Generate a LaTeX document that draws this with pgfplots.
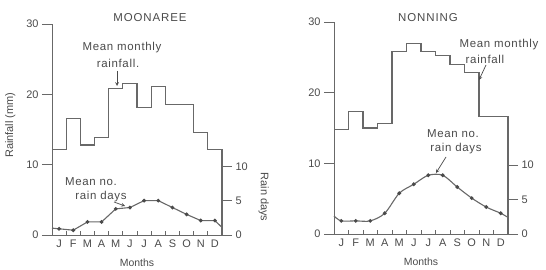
\documentclass[border=0pt]{standalone}
\usepackage{fontspec}
\setmainfont{Liberation Sans}
\usepackage{pgfplots}
\pgfplotsset{compat=1.18}
\definecolor{ink}{HTML}{4A4A4A}
\definecolor{ln}{HTML}{686868}

\pgfplotsset{
  rainfallaxis/.style={
    scale only axis, anchor=south west,
    xmin=0, xmax=12, ymin=0, ymax=30,
    axis x line*=bottom, axis y line*=left,
    axis line style={-, ln, line width=0.9bp},
    ytick={0,10,20,30},
    tick align=outside, major tick length=10bp, minor tick length=3.5bp,
    xtick={0.5,1.5,...,11.5},
    xticklabels={J,F,M,A,M,J,J,A,S,O,N,D},
    minor xtick={0,1,...,12},
    major x tick style={draw=none},
    minor x tick style={yshift=3.5bp, ln, line width=0.8bp},
    major y tick style={ln, line width=0.8bp},
    xticklabel style={yshift=9bp, font=\fontsize{11}{12}\selectfont, text=ink},
    yticklabel style={font=\fontsize{11}{12}\selectfont, text=ink},
    /pgf/number format/assume math mode=true,
    xlabel={Months},
    xlabel style={font=\fontsize{10.5}{12}\selectfont, text=ink,
      at={(axis description cs:0.5,-0.133)}, anchor=center},
    clip=false,
  },
  raindaysaxis/.style={
    scale only axis, anchor=south west,
    xmin=0, xmax=12, ymin=0, ymax=30.7,
    hide x axis,
    axis y line*=right,
    y axis line style={draw=none},
    ytick={0,5,10},
    tick align=outside, major tick length=10bp,
    major y tick style={ln, line width=0.8bp},
    yticklabel style={font=\fontsize{11}{12}\selectfont, text=ink},
    /pgf/number format/assume math mode=true,
    clip=false,
  },
  stepline/.style={ln, line width=1.1bp, const plot},
  dayline/.style={ln, line width=1.1bp, mark=*, mark size=1.3bp,
    mark options={fill=ink, draw=ink}, mark indices={2,...,13}},
}

\begin{document}
\begin{tikzpicture}
\path[use as bounding box] (0bp,0bp) rectangle (546bp,270bp);

% ---------------- MOONAREE ----------------
\begin{axis}[rainfallaxis, at={(52bp,35bp)}, width=170bp, height=211bp,
  ylabel={Rainfall (mm)},
  ylabel style={font=\fontsize{11}{12}\selectfont, text=ink, at={(axis description cs:-0.245,0.52)}, anchor=center}]
\addplot[stepline] coordinates {
 (0,12.1) (1,16.6) (2,12.8) (3,13.8) (4,20.8) (5,21.6) (6,18.1) (7,21.1)
 (8,18.6) (9,18.6) (10,14.6) (11,12.2) (12,12.2) (12,0)};
\end{axis}
\begin{axis}[raindaysaxis, at={(52bp,35bp)}, width=170bp, height=211bp,
  ylabel={Rain days},
  ylabel style={font=\fontsize{11}{12}\selectfont, text=ink, at={(axis description cs:1.245,0.18)}, anchor=center, rotate=180}]
\addplot[dayline] coordinates {
 (0,1.0) (0.5,0.9) (1.5,0.7) (2.5,1.9) (3.5,1.9) (4.5,3.8) (5.5,4.0)
 (6.5,5.0) (7.5,5.0) (8.5,4.0) (9.5,3.0) (10.5,2.1) (11.5,2.1) (12,1.1)};
\end{axis}

% ---------------- NONNING ----------------
\begin{axis}[rainfallaxis, at={(334bp,36bp)}, width=174bp, height=212bp]
\addplot[stepline] coordinates {
 (0,14.8) (1,17.3) (2,15.0) (3,15.7) (4,25.8) (5,27.0) (6,25.8) (7,25.2)
 (8,24.0) (9,22.9) (10,16.6) (11,16.6) (12,16.6) (12,0)};
\end{axis}
\begin{axis}[raindaysaxis, at={(334bp,36bp)}, width=174bp, height=212bp]
\addplot[dayline, smooth, tension=0.5] coordinates {
 (0,2.6) (0.5,1.9) (1.5,1.9) (2.5,1.9) (3.5,3.0) (4.5,5.9) (5.5,7.2)
 (6.5,8.5) (7.5,8.5) (8.5,6.8) (9.5,5.2) (10.5,3.9) (11.5,3.0) (12,2.4)};
\end{axis}

% ---------------- Text ----------------
\begin{scope}[x=1bp, y=1bp, every node/.style={text=ink, inner sep=0pt, font=\fontsize{11.5}{12}\selectfont}]
\node at (150,252) {\addfontfeature{LetterSpace=8}MOONAREE};
\node at (428,252) {\addfontfeature{LetterSpace=8}NONNING};
\node at (122,222) {\addfontfeature{LetterSpace=6}Mean monthly};
\node at (118,207) {\addfontfeature{LetterSpace=6}rainfall.};
\node at (91,88) {\addfontfeature{LetterSpace=6}Mean no.};
\node at (101,73) {\addfontfeature{LetterSpace=6}rain days};
\node at (499,225) {\addfontfeature{LetterSpace=6}Mean monthly};
\node at (485,211) {\addfontfeature{LetterSpace=6}rainfall};
\node at (453,136) {\addfontfeature{LetterSpace=6}Mean no.};
\node at (456,121) {\addfontfeature{LetterSpace=6}rain days};
\draw[-stealth, ink, line width=0.7bp] (117,199) -- (117,184);
\draw[-stealth, ink, line width=0.7bp] (114,68) -- (125,64);
\draw[-stealth, ink, line width=0.7bp] (486,205) -- (479,190);
\draw[-stealth, ink, line width=0.7bp] (446,113) -- (436,97);
\end{scope}
\end{tikzpicture}
\end{document}
